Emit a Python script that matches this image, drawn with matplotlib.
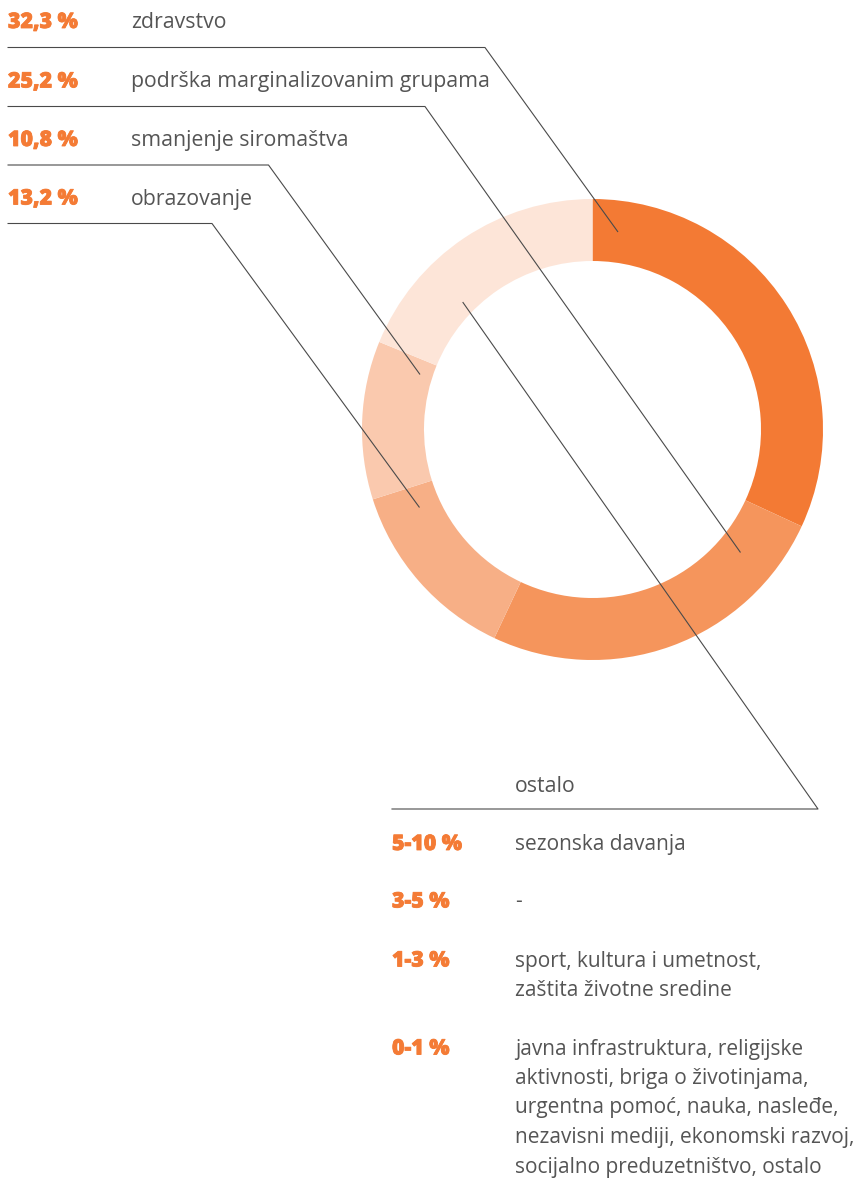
import matplotlib
matplotlib.use("Agg")
import matplotlib.pyplot as plt
import matplotlib.patheffects as pe

# ---- data ----
categories = ["zdravstvo", "podrška marginalizovanim grupama", "obrazovanje",
              "smanjenje siromaštva", "ostalo"]
# arc shares as drawn in the reference (clockwise from top)
shares = [31.9, 25.1, 13.1, 11.1, 18.8]
colors = ["#F37A34", "#F5955C", "#F7AF86", "#FAC9AE", "#FDE5D8"]

top_labels = ["zdravstvo", "podrška marginalizovanim grupama",
              "smanjenje siromaštva", "obrazovanje"]
top_pcts = ["32,3 %", "25,2 %", "10,8 %", "13,2 %"]

other_ranges = ["5-10 %", "3-5 %", "1-3 %", "0-1 %"]
other_items = [
    "sezonska davanja",
    "-",
    "sport, kultura i umetnost,\nzaštita životne sredine",
    "javna infrastruktura, religijske\naktivnosti, briga o životinjama,\n"
    "urgentna pomoć, nauka, nasleđe,\nnezavisni mediji, ekonomski razvoj,\n"
    "socijalno preduzetništvo, ostalo",
]

W, H = 858, 1178
ORANGE = "#F47B35"
GREY = "#555555"
LINE = "#4a4a4a"
FS = 15.35
FS_B = 15.05

plt.rcParams["font.family"] = ["Open Sans", "DejaVu Sans"]

fig = plt.figure(figsize=(W / 100, H / 100), dpi=100)
ax = fig.add_axes([0, 0, 1, 1])


def Y(y):
    return H - y


bold_fx = [pe.Stroke(linewidth=0.6, foreground=ORANGE, joinstyle="round"),
           pe.Normal()]

cx, cy, R, r_in = 592.5, 429.5, 230.5, 168.5
ax.pie(shares, colors=colors, startangle=90, counterclock=False,
       center=(cx, Y(cy)), radius=R, frame=True,
       wedgeprops=dict(width=R - r_in, linewidth=0))

ax.set_xlim(0, W)
ax.set_ylim(0, H)
ax.set_aspect("equal")
ax.axis("off")

# top labels
baselines = [28, 87.5, 146, 204.5]
rule_y = [47.5, 106.5, 165, 223.5]
corner_x = [485, 425, 268.5, 212]
targets = [(618, 232), (740.5, 552.5), (420, 374.5), (419.5, 507.5)]
for i in range(4):
    ax.text(8, Y(baselines[i]), top_pcts[i], color=ORANGE, fontsize=FS,
            fontweight="heavy", va="baseline", ha="left", path_effects=bold_fx)
    ax.text(131, Y(baselines[i]), top_labels[i], color=GREY, fontsize=FS,
            va="baseline", ha="left")
    ax.plot([7.5, corner_x[i], targets[i][0]],
            [Y(rule_y[i]), Y(rule_y[i]), Y(targets[i][1])],
            color=LINE, lw=0.8, solid_capstyle="butt")

# ostalo leader
ax.plot([463, 818, 392], [Y(302.5), Y(809), Y(809)], color=LINE, lw=0.8)
ax.text(515, Y(791.5), "ostalo", color=GREY, fontsize=FS, va="baseline")

other_base = [850, 907.5, 966.5, 1054.5]
for i in range(4):
    ax.text(392, Y(other_base[i]), other_ranges[i], color=ORANGE, fontsize=FS,
            fontweight="heavy", va="baseline", ha="left", path_effects=bold_fx)
    lines = other_items[i].split("\n")
    for j, ln in enumerate(lines):
        ax.text(515, Y(other_base[i] + 29.5 * j), ln, color=GREY, fontsize=FS_B,
                va="baseline", ha="left")

fig.savefig("out.png", dpi=100, facecolor="white")
